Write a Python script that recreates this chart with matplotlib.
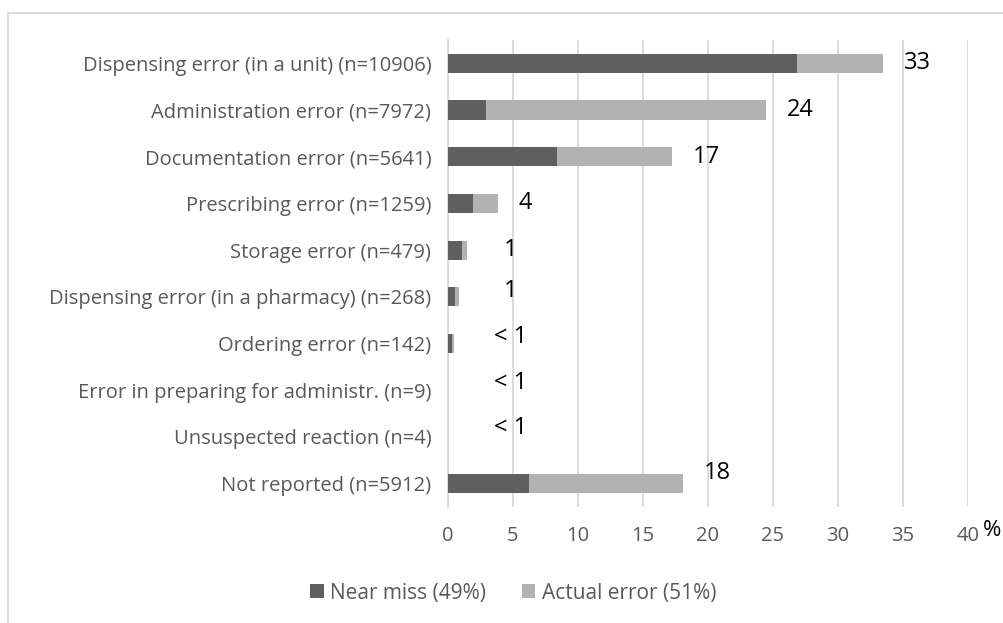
import matplotlib
matplotlib.use("Agg")
import matplotlib.pyplot as plt
from matplotlib.patches import Rectangle
import numpy as np

plt.rcParams['font.family'] = ['Open Sans', 'DejaVu Sans']

categories = ["Dispensing error (in a unit) (n=10906)",
              "Administration error (n=7972)",
              "Documentation error (n=5641)",
              "Prescribing error (n=1259)",
              "Storage error (n=479)",
              "Dispensing error (in a pharmacy) (n=268)",
              "Ordering error (n=142)",
              "Error in preparing for administr. (n=9)",
              "Unsuspected reaction (n=4)",
              "Not reported (n=5912)"]
near_miss = [26.85, 2.9, 8.35, 1.95, 1.08, 0.56, 0.31, 0.02, 0.01, 6.2]
actual_error = [6.6, 21.55, 8.9, 1.87, 0.36, 0.29, 0.13, 0.01, 0.01, 11.9]
value_labels = ["33", "24", "17", "4", "1", "1", "< 1", "< 1", "< 1", "18"]
xticks = [0, 5, 10, 15, 20, 25, 30, 35, 40]

dark = "#5f5f5f"
light = "#b2b2b2"
grid_c = "#d9d9d9"
txt_c = "#595959"

fig = plt.figure(figsize=(10.04, 6.23), dpi=100)
ax = fig.add_axes([0.4462, 0.1862, 0.5179, 0.7496])

y = np.arange(len(categories))
ax.barh(y, near_miss, height=0.41, color=dark, label="Near miss (49%)", zorder=3)
ax.barh(y, actual_error, left=near_miss, height=0.41, color=light, label="Actual error (51%)", zorder=3)

# labels in the original sit a bit above some of the bars
lift = [0, 0, 0, 0, 0, 0.13, 0.13, 0.15, 0.2, 0.22]
totals = np.array(near_miss) + np.array(actual_error)
for i, lab in enumerate(value_labels):
    if totals[i] > 3:
        ax.text(totals[i] + 1.6, y[i] - lift[i], lab, ha="left", va="center", fontsize=17, color="black")
    else:
        ax.text(4.8, y[i] - lift[i], lab, ha="center", va="center", fontsize=17, color="black")

ax.set_xlim(0, 40)
ax.set_ylim(len(categories) - 0.5, -0.5)
ax.set_xticks(xticks)
ax.set_xticklabels([str(t) for t in xticks], fontsize=14.5, color=txt_c)
ax.set_yticks(y)
ax.set_yticklabels(categories, fontsize=14.5, color=txt_c)
ax.tick_params(axis="y", length=0, pad=12)
ax.tick_params(axis="x", length=0, pad=14)
ax.xaxis.grid(True, color=grid_c, linewidth=1.3, zorder=0)
ax.set_axisbelow(True)
for s in ["top", "right", "bottom"]:
    ax.spines[s].set_visible(False)
ax.spines["left"].set_color(grid_c)
ax.spines["left"].set_linewidth(1.3)

fig.text(0.988, 0.148, "%", fontsize=16, color="black", ha="center", va="center")

fig.legend(loc="center", bbox_to_anchor=(0.511, 0.048), ncol=2, frameon=False,
           fontsize=15, handlelength=0.67, handleheight=0.67, handletextpad=0.3,
           columnspacing=1.7, labelcolor=txt_c)

fig.patches.append(Rectangle((8 / 1004, -0.1), 1.1, 1.1 - 13 / 623, transform=fig.transFigure,
                             fill=False, edgecolor=grid_c, linewidth=1.3))

fig.savefig("out.png", dpi=100)
